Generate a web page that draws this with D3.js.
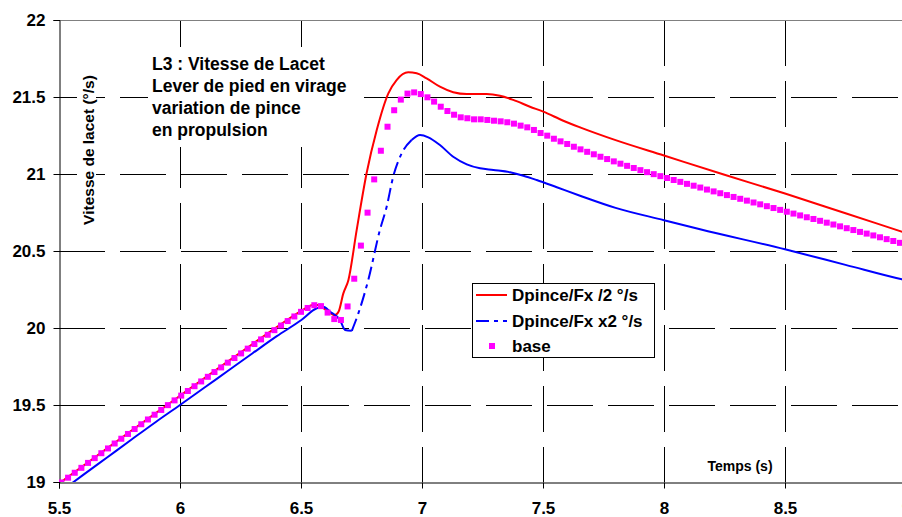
<!DOCTYPE html>
<html>
<head>
<meta charset="utf-8">
<script src="https://cdn.jsdelivr.net/npm/d3@7"></script>
<style>
    body { margin: 0; background: #fff; }
    svg text { font-family: "Liberation Sans", Arial, sans-serif; font-weight: bold; fill: #000; }
</style>
</head>
<body>
<div id="chart"></div>
<script>

// axis ticks
var xTicks = [5.5, 6, 6.5, 7, 7.5, 8, 8.5, 9];
var yTicks = [19, 19.5, 20, 20.5, 21, 21.5, 22];

var titleLines = ["L3 : Vitesse de Lacet", "Lever de pied en virage", "variation de pince", "en propulsion"];
var yTitle = "Vitesse de lacet (°/s)";
var xTitle = "Temps (s)";
var seriesNames = ["Dpince/Fx /2 °/s", "Dpince/Fx x2 °/s", "base"];

// Dpince/Fx /2 (red line)
var redTime  = [5.5, 5.6, 5.7, 5.8, 5.9, 6.0, 6.1, 6.2, 6.3, 6.4, 6.5, 6.55, 6.57, 6.6, 6.64, 6.655, 6.675, 6.696,
                6.73, 6.771, 6.813, 6.861, 6.895, 6.943, 6.978, 7.019, 7.074, 7.129, 7.185, 7.267, 7.322, 7.377,
                7.446, 7.501, 7.584, 7.653, 7.8, 8.0, 8.25, 8.5, 8.75, 9.0];
var redValue = [18.99, 19.105, 19.22, 19.334, 19.447, 19.56, 19.673, 19.785, 19.896, 20.006, 20.11, 20.15, 20.15, 20.12, 20.084, 20.105, 20.225, 20.312,
                20.636, 21.005, 21.286, 21.524, 21.61, 21.66, 21.654, 21.621, 21.567, 21.531, 21.519, 21.519, 21.508, 21.481,
                21.437, 21.405, 21.346, 21.303, 21.22, 21.12, 20.995, 20.873, 20.745, 20.617];

// Dpince/Fx x2 (blue line)
var blueTime  = [5.5, 5.6, 5.7, 5.8, 5.9, 6.0, 6.1, 6.2, 6.3, 6.4, 6.5, 6.565, 6.592, 6.62, 6.661, 6.682, 6.71,
                 6.737, 6.778, 6.826, 6.854, 6.881, 6.916, 6.957, 6.992, 7.026, 7.074, 7.129, 7.185, 7.24, 7.295,
                 7.364, 7.419, 7.474, 7.557, 7.653, 7.8, 8.0, 8.149, 8.5, 8.75, 8.983, 9.0];
var blueValue = [18.93, 19.046, 19.161, 19.276, 19.39, 19.5, 19.612, 19.724, 19.836, 19.947, 20.05, 20.128, 20.138, 20.106, 20.052, 19.987, 19.982,
                 20.095, 20.312, 20.636, 20.788, 20.983, 21.134, 21.221, 21.253, 21.238, 21.188, 21.112, 21.063, 21.037, 21.026,
                 21.011, 20.989, 20.961, 20.914, 20.859, 20.78, 20.70, 20.641, 20.511, 20.41, 20.316, 20.31];

// base (magenta squares)
var baseTime = [
    5.51, 5.5375, 5.565, 5.5925, 5.62, 5.6475, 5.675, 5.7025, 5.73, 5.7575, 5.785, 5.8125, 5.84, 5.8675, 5.895, 5.9225,
    5.95, 5.9775, 6.005, 6.0325, 6.06, 6.0875, 6.115, 6.1425, 6.17, 6.1975, 6.225, 6.2525, 6.28, 6.3075, 6.335, 6.3625,
    6.39, 6.4175, 6.445, 6.4725, 6.5, 6.5275, 6.555, 6.5825, 6.61, 6.6375, 6.665, 6.6925, 6.72, 6.7475, 6.775, 6.8025,
    6.83, 6.8575, 6.885, 6.9125, 6.94, 6.9675, 6.995, 7.0225, 7.05, 7.0775, 7.105, 7.1325, 7.16, 7.1875, 7.215, 7.2425,
    7.27, 7.2975, 7.325, 7.3525, 7.38, 7.4075, 7.435, 7.4625, 7.49, 7.5175, 7.545, 7.5725, 7.6, 7.6275, 7.655, 7.6825,
    7.71, 7.7375, 7.765, 7.7925, 7.82, 7.8475, 7.875, 7.9025, 7.93, 7.9575, 7.985, 8.0125, 8.04, 8.0675, 8.095, 8.1225,
    8.15, 8.1775, 8.205, 8.2325, 8.26, 8.2875, 8.315, 8.3425, 8.37, 8.3975, 8.425, 8.4525, 8.48, 8.5075, 8.535, 8.5625,
    8.59, 8.6175, 8.645, 8.6725, 8.7, 8.7275, 8.755, 8.7825, 8.81, 8.8375, 8.865, 8.8925, 8.92, 8.9475, 8.975, 9.0025];
var baseValue = [
    18.997, 19.028, 19.060, 19.092, 19.124, 19.155, 19.187, 19.218, 19.250, 19.281, 19.312, 19.344, 19.375, 19.406, 19.437, 19.468,
    19.499, 19.530, 19.561, 19.591, 19.622, 19.653, 19.683, 19.714, 19.744, 19.775, 19.805, 19.835, 19.866, 19.896, 19.926, 19.956,
    19.986, 20.016, 20.045, 20.075, 20.105, 20.130, 20.148, 20.142, 20.100, 20.058, 20.052, 20.140, 20.320, 20.535, 20.749, 20.965,
    21.151, 21.307, 21.414, 21.483, 21.522, 21.530, 21.519, 21.498, 21.470, 21.437, 21.409, 21.385, 21.368, 21.362, 21.355, 21.355,
    21.351, 21.346, 21.342, 21.336, 21.327, 21.314, 21.303, 21.286, 21.266, 21.249, 21.229, 21.212, 21.195, 21.177, 21.160, 21.144,
    21.128, 21.112, 21.097, 21.082, 21.067, 21.053, 21.039, 21.025, 21.012, 20.999, 20.986, 20.974, 20.961, 20.949, 20.936, 20.924,
    20.912, 20.899, 20.887, 20.875, 20.863, 20.851, 20.839, 20.827, 20.815, 20.803, 20.791, 20.779, 20.767, 20.755, 20.743, 20.731,
    20.719, 20.708, 20.696, 20.684, 20.672, 20.660, 20.648, 20.636, 20.624, 20.613, 20.601, 20.589, 20.577, 20.565, 20.553, 20.541];


LacetChart = function(_parentElement) {
    this.parentElement = _parentElement;
    this.initVis();
};

LacetChart.prototype.initVis = function() {
    var vis = this;

    vis.width = 902;
    vis.height = 517;

    vis.svg = d3.select(vis.parentElement).append("svg")
        .attr("width", vis.width)
        .attr("height", vis.height);

    vis.x = d3.scaleLinear().domain([5.5, 9]).range([59, 906]);
    vis.y = d3.scaleLinear().domain([19, 22]).range([482, 20]);

    // clip the curves to the plot area
    vis.svg.append("clipPath")
        .attr("id", "plot-clip")
        .append("rect")
        .attr("x", vis.x(5.5)).attr("y", vis.y(22))
        .attr("width", vis.x(9) - vis.x(5.5))
        .attr("height", vis.y(19) - vis.y(22));

    vis.wrangleData();
};

LacetChart.prototype.wrangleData = function() {
    var vis = this;

    vis.red = redTime.map(function(t, i) { return {t: t, v: redValue[i]}; });
    vis.blue = blueTime.map(function(t, i) { return {t: t, v: blueValue[i]}; });
    vis.base = baseTime.map(function(t, i) { return {t: t, v: baseValue[i]}; });

    // the blue line shows its dash pattern only on the steep rise
    vis.blueSolidA = vis.blue.filter(function(d) { return d.t <= 6.71; });
    vis.blueDash = vis.blue.filter(function(d) { return d.t >= 6.71 && d.t <= 6.957; });
    vis.blueSolidB = vis.blue.filter(function(d) { return d.t >= 6.957; });

    vis.updateVis();
};

LacetChart.prototype.updateVis = function() {
    var vis = this;
    var x = vis.x, y = vis.y;

    // grid
    vis.svg.selectAll(".vgrid")
        .data(xTicks.filter(function(d) { return d > 5.5 && d < 9; }))
        .enter().append("line")
        .attr("class", "vgrid")
        .attr("x1", function(d) { return Math.round(x(d)) + 0.5; })
        .attr("x2", function(d) { return Math.round(x(d)) + 0.5; })
        .attr("y1", y(22))
        .attr("y2", y(19))
        .attr("stroke", "#000")
        .attr("stroke-dasharray", "46,15");

    vis.svg.selectAll(".hgrid")
        .data(yTicks.filter(function(d) { return d > 19 && d < 22; }))
        .enter().append("line")
        .attr("class", "hgrid")
        .attr("x1", x(5.5))
        .attr("x2", x(9))
        .attr("y1", function(d) { return Math.round(y(d)) + 0.5; })
        .attr("y2", function(d) { return Math.round(y(d)) + 0.5; })
        .attr("stroke", "#000")
        .attr("stroke-dasharray", "46,15");

    // plot area border (top)
    vis.svg.append("line")
        .attr("x1", x(5.5)).attr("x2", x(9))
        .attr("y1", Math.round(y(22)) + 0.5).attr("y2", Math.round(y(22)) + 0.5)
        .attr("stroke", "#808080");

    // axes
    var yAxis = d3.axisLeft(y).tickValues(yTicks).tickSize(6).tickPadding(8).tickFormat(d3.format(""));
    var xAxis = d3.axisBottom(x).tickValues(xTicks).tickSize(6).tickPadding(13).tickFormat(d3.format(""));

    var gy = vis.svg.append("g")
        .attr("transform", "translate(" + (Math.round(x(5.5)) + 0.5) + ",0)")
        .call(yAxis);
    var gx = vis.svg.append("g")
        .attr("transform", "translate(0," + (Math.round(y(19)) + 0.5) + ")")
        .call(xAxis);

    [gx, gy].forEach(function(g) {
        g.select(".domain").attr("stroke", "#000");
        g.selectAll(".tick line").attr("stroke", "#000");
        g.selectAll(".tick text")
            .style("font-size", "17px")
            .style("font-family", "'Liberation Sans', Arial, sans-serif")
            .style("font-weight", "bold");
    });

    // title box
    vis.svg.append("rect")
        .attr("x", 148).attr("y", 47)
        .attr("width", 212).attr("height", 100)
        .attr("fill", "#fff");

    vis.svg.selectAll(".title")
        .data(titleLines)
        .enter().append("text")
        .attr("class", "title")
        .attr("x", 152)
        .attr("y", function(d, i) { return 69.5 + i * 22.3; })
        .style("font-size", "17.5px")
        .text(function(d) { return d; });

    // y title
    vis.svg.append("rect")
        .attr("x", 77).attr("y", 68)
        .attr("width", 19).attr("height", 164)
        .attr("fill", "#fff");
    vis.svg.append("text")
        .attr("transform", "translate(94,150) rotate(-90)")
        .attr("text-anchor", "middle")
        .style("font-size", "15.5px")
        .text(yTitle);

    // x title
    vis.svg.append("text")
        .attr("x", 740)
        .attr("y", 471)
        .attr("text-anchor", "middle")
        .style("font-size", "14px")
        .text(xTitle);

    // series
    var line = d3.line()
        .x(function(d) { return x(d.t); })
        .y(function(d) { return y(d.v); })
        .curve(d3.curveMonotoneX);

    var plot = vis.svg.append("g").attr("clip-path", "url(#plot-clip)");

    plot.append("path")
        .datum(vis.red)
        .attr("d", line)
        .attr("fill", "none")
        .attr("stroke", "#ff0000")
        .attr("stroke-width", 2);

    [vis.blueSolidA, vis.blueDash, vis.blueSolidB].forEach(function(part, i) {
        plot.append("path")
            .datum(part)
            .attr("d", line)
            .attr("fill", "none")
            .attr("stroke", "#0000ff")
            .attr("stroke-width", 2)
            .attr("stroke-dasharray", i == 1 ? "13,5,4,5" : null);
    });

    plot.selectAll(".baseMark")
        .data(vis.base)
        .enter().append("rect")
        .attr("class", "baseMark")
        .attr("x", function(d) { return x(d.t) - 3; })
        .attr("y", function(d) { return y(d.v) - 3; })
        .attr("width", 6)
        .attr("height", 6)
        .attr("fill", "#ff00ff");

    // legend
    var lg = vis.svg.append("g");
    lg.append("rect")
        .attr("x", 472.5).attr("y", 283.5)
        .attr("width", 182).attr("height", 74)
        .attr("fill", "#fff")
        .attr("stroke", "#000");

    var rowY = [295, 321, 346];
    lg.append("line")
        .attr("x1", 476).attr("x2", 507)
        .attr("y1", rowY[0]).attr("y2", rowY[0])
        .attr("stroke", "#ff0000").attr("stroke-width", 2);
    lg.append("line")
        .attr("x1", 476).attr("x2", 507)
        .attr("y1", rowY[1]).attr("y2", rowY[1])
        .attr("stroke", "#0000ff").attr("stroke-width", 2)
        .attr("stroke-dasharray", "13,5,4,5");
    lg.append("rect")
        .attr("x", 489).attr("y", rowY[2] - 3)
        .attr("width", 6).attr("height", 6)
        .attr("fill", "#ff00ff");

    lg.selectAll(".legText")
        .data(seriesNames)
        .enter().append("text")
        .attr("class", "legText")
        .attr("x", 512)
        .attr("y", function(d, i) { return rowY[i] + 6; })
        .style("font-size", "17px")
        .text(function(d) { return d; });
};

var chart = new LacetChart("#chart");

</script>
</body>
</html>
